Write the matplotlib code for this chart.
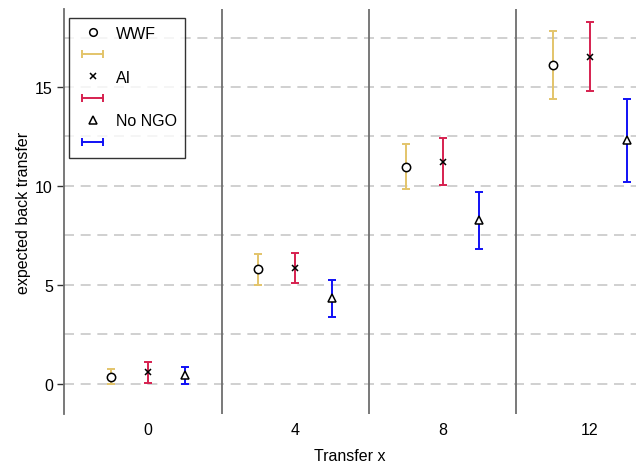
import matplotlib
matplotlib.use("Agg")
import matplotlib.pyplot as plt
from matplotlib.lines import Line2D
from matplotlib.legend_handler import HandlerLine2D

plt.rcParams["font.family"] = ["Liberation Sans", "DejaVu Sans"]

# 数据：每个 transfer 水平下三组的均值与置信区间
transfer = [0, 4, 8, 12]
groups = ["WWF", "AI", "No NGO"]
wwf_mean = [0.37, 5.80, 10.96, 16.13]
wwf_lo = [0.0, 5.00, 9.85, 14.39]
wwf_hi = [0.76, 6.55, 12.10, 17.84]
ai_mean = [0.59, 5.86, 11.22, 16.53]
ai_lo = [0.04, 5.10, 10.03, 14.78]
ai_hi = [1.10, 6.62, 12.42, 18.30]
nongo_mean = [0.47, 4.34, 8.29, 12.34]
nongo_lo = [0.0, 3.38, 6.80, 10.22]
nongo_hi = [0.87, 5.25, 9.68, 14.41]

offsets = [-1, 0, 1]
markers = ["o", "x", "^"]
colors = ["#E3C46A", "#D6204F", "#1010F5"]
means = [wwf_mean, ai_mean, nongo_mean]
los = [wwf_lo, ai_lo, nongo_lo]
his = [wwf_hi, ai_hi, nongo_hi]

fig = plt.figure(figsize=(6.36, 4.64), dpi=100)
ax = fig.add_axes([0.1006, 0.1056, 0.8994, 0.8728])

# 网格虚线
for y in [0, 2.5, 5, 7.5, 10, 12.5, 15, 17.5]:
    ax.axhline(y, color="#C8C8C8", lw=1.2, ls=(0, (6, 4)), zorder=0)

# 分隔竖线
for xv in [2, 6, 10]:
    ax.axvline(xv, color="#6E6E6E", lw=1.3, zorder=1)

handles = []
for g, off, m, c, mu, lo, hi in zip(groups, offsets, markers, colors, means, los, his):
    xs = [t + off for t in transfer]
    err = [[a - b for a, b in zip(mu, lo)], [b - a for a, b in zip(mu, hi)]]
    ax.errorbar(xs, mu, yerr=err, fmt="none", ecolor=c, elinewidth=1.4,
                capsize=3, capthick=1.4, zorder=2)
    ms = 5 if m == "x" else 6
    ax.plot(xs, mu, ls="none", marker=m, ms=ms, mfc="white" if m != "x" else "black",
            mec="black", mew=1.1, zorder=3)
    h_m = Line2D([], [], ls="none", marker=m, ms=ms - 0.5, mfc="white", mec="black", mew=1.1)
    h_e = Line2D([0, 1], [0, 0], color=c, lw=1.4, marker="|", ms=6, mew=1.4)
    handles += [h_m, h_e]

labels = ["WWF", "", "AI", "", "No NGO", ""]
hmap = {h: HandlerLine2D(numpoints=2) for h in handles[1::2]}
leg = ax.legend(handles, labels, loc="upper left", bbox_to_anchor=(0.009, 0.978),
                fontsize=11.5, frameon=True, fancybox=False, edgecolor="black",
                handlelength=1.95, handletextpad=0.5, labelspacing=0.43,
                borderpad=0.5, numpoints=1, handler_map=hmap, borderaxespad=0)
leg.get_frame().set_linewidth(1.0)
leg.set_zorder(5)

ax.set_xlim(-2.28, 13.25)
ax.set_ylim(-1.52, 18.94)
ax.set_xticks(transfer)
ax.set_xticklabels([str(t) for t in transfer])
ax.set_yticks([0, 5, 10, 15])
ax.tick_params(axis="x", length=0, labelsize=11.5, pad=6)
ax.tick_params(axis="y", length=5, width=1, color="#333333", labelsize=11.5, pad=3)

for s in ["top", "right", "bottom"]:
    ax.spines[s].set_visible(False)
ax.spines["left"].set_color("#6E6E6E")
ax.spines["left"].set_linewidth(1.3)

ax.set_xlabel("Transfer x", fontsize=11.5, labelpad=8)
ax.set_ylabel("expected back transfer", fontsize=11.5, labelpad=3)

fig.savefig("out.png", dpi=100)
